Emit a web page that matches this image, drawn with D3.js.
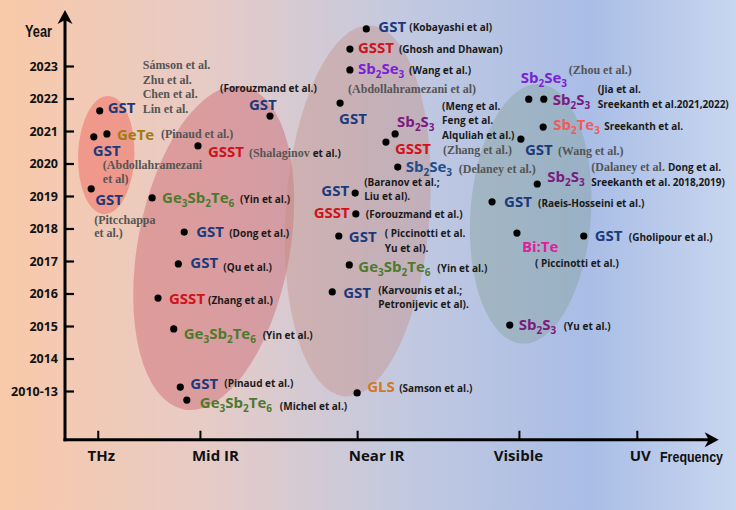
<!DOCTYPE html>
<html><head><meta charset="utf-8">
<script src="https://cdn.jsdelivr.net/npm/d3@7"></script>
<style>html,body{margin:0;padding:0;overflow:hidden;background:#fff}</style>
</head><body>
<svg id="c" width="736" height="510"></svg>
<script>
// ---------------- DATA ----------------
const yearLabels = ["2010-13","2014","2015","2016","2017","2018","2019","2020","2021","2022","2023"];
const yearTicks = [0,1,2,3,4,5,6,7,8,9,10];
const freqLabels = ["THz","Mid IR","Near IR","Visible","UV"];
const freqTicks = [0.50, 2.06, 4.46, 6.93, 8.73];

const materials = [
  "GST","GeTe","GST","GST",
  "GST","GSST","Ge3Sb2Te6","GST","GST","GSST","Ge3Sb2Te6","GST","Ge3Sb2Te6",
  "GST","GSST","Sb2Se3","GST","Sb2S3","GSST","Sb2Se3","GST","GSST","GST","Ge3Sb2Te6","GST","GLS",
  "Sb2Se3","Sb2S3","Sb2Te3","GST","Sb2S3","GST","Bi:Te","GST","Sb2S3"
];
const bandValues = [
  0.53,0.64,0.44,0.40,
  3.13,2.03,1.33,1.82,1.73,1.42,1.66,1.76,1.86,
  4.60,4.35,4.35,4.20,5.04,4.90,5.08,4.43,4.44,4.18,4.34,4.08,4.46,
  7.08,7.31,7.30,6.96,7.21,6.52,6.90,7.92,6.79
];
const yearValues = [
  8.62,7.91,7.82,6.22,
  8.46,7.54,5.94,4.89,3.91,2.86,1.91,0.12,-0.28,
  11.14,10.52,9.88,8.86,7.91,7.66,6.89,6.09,5.45,4.77,3.88,3.05,-0.06,
  8.98,8.98,8.12,7.75,6.37,5.82,4.86,4.77,2.03
];
const citations = [
  ["Sámson  et al.","Zhu  et al.","Chen  et al.","Lin et al."],
  ["(Pinaud et al.)"],
  ["(Abdollahramezani","et al)"],
  ["(Pitcchappa","et al.)"],
  ["(Forouzmand et al.)"],
  ["(Shalaginov |et al.)"],
  ["(Yin et al.)"],
  ["(Dong et al.)"],
  ["(Qu et al.)"],
  ["(Zhang  et al.)"],
  ["(Yin et al.)"],
  ["(Pinaud  et al.)"],
  ["(Michel et al.)"],
  ["(Kobayashi  et al)"],
  ["(Ghosh and Dhawan)"],
  ["(Wang  et al.)"],
  ["(Abdollahramezani  et al)"],
  ["(Meng et al.","Feng et al.","Alquliah  et al.)"],
  ["(Zhang  et al.)"],
  ["(Delaney et al.)"],
  ["(Baranov  et al.;","Liu et al)."],
  ["(Forouzmand  et al.)"],
  ["( Piccinotti  et al.","Yu et al)."],
  ["(Yin et al.)"],
  ["(Karvounis  et al.;","Petronijevic et al)."],
  ["(Samson  et al.)"],
  ["(Zhou  et al.)"],
  ["(Jia et al.","Sreekanth et al.2021,2022)"],
  ["Sreekanth et al."],
  ["(Wang  et al.)"],
  ["(Dalaney et al. |Dong et al.","|Sreekanth et al. 2018,2019)"],
  ["(Raeis-Hosseini et al.)"],
  ["( Piccinotti  et al.)"],
  ["(Gholipour  et al.)"],
  ["(Yu et al.)"]
];
// group ellipses (band / year units)
const groupNames = ["THz","Mid IR","Near IR","Visible"];
const groupBand = [0.63, 2.27, 4.47, 7.11];
const groupYear = [7.26, 4.40, 5.54, 5.45];
const groupBandSpread = [0.43, 1.16, 1.10, 0.92];
const groupYearSpread = [1.82, 5.05, 5.72, 4.00];

// ---------------- LAYOUT / STYLE ----------------
const groupStyle = [
  {rot:2, fill:"rgba(238,112,104,0.55)"},
  {rot:10.5, fill:"rgba(205,100,110,0.45)"},
  {rot:4, fill:"rgba(195,140,130,0.40)"},
  {rot:4, fill:"rgba(130,160,150,0.40)"}
];
const matColor = {
  "GST":"#1b3a7c","GSST":"#d0121b","GeTe":"#a07c12","Ge3Sb2Te6":"#4d7a2e",
  "Sb2Se3":"#7a22d6","Sb2S3":"#7b1a80","Sb2Te3":"#f25a5a","Bi:Te":"#e0209a","GLS":"#d2782a"
};
// [matDx, matDy, anchor, citeDx, citeDy, serif, lineGap, colorOverride]
const labelLayout = [
  [8,2,"start",43,-42,1,14.7],
  [10,6,"start",54,4,1,14],
  [-1,19,"start",9,32,1,14],
  [4,16,"start",3,35,1,13],
  [-21,-6,"start",-50,-24,0,14],
  [10,11,"start",51,11,1,14],
  [10,5,"start",88,5,0,14],
  [12,5,"start",45,5,0,14],
  [12,4,"start",45,7,0,14],
  [11,6,"start",50,6,0,14],
  [10,10,"start",89,10,0,14],
  [10,2,"start",44,0,0,14],
  [13,8,"start",93,10,0,14],
  [12,3,"start",43,2,0,14],
  [8,4,"start",49,4,0,14],
  [8,4,"start",59,4,0,14],
  [-1,21,"start",8,-10,1,14],
  [2,-7,"start",47,-24,0,14.5],
  [9,12,"start",57,12,1,14],
  [8,5,"start",61,6,1,14,"#1f4e8c"],
  [-6,3,"end",9,-7,0,14],
  [-6,4,"end",10,4,0,14],
  [10,6,"start",46,1,0,15],
  [9,7,"start",88,7,0,14],
  [11,6,"start",46,2,0,14],
  [10,-1,"start",42,-1,0,14],
  [-8,-16,"start",40,-25,1,14],
  [9,6,"start",54,-6,0,15],
  [10,3,"start",61,3,0,14],
  [4,16,"start",37,16,1,14],
  [10,-2,"start",54,-13,1,15],
  [12,5,"start",46,5,0,14],
  [5,19,"start",18,34,0,14],
  [11,5,"start",45,5,0,14],
  [9,5,"start",54,5,0,14]
];
const freqLabelDx = [3, 15, 19, -1, 3];

// ---------------- DRAW ----------------
const W = 736, H = 510;
const svg = d3.select("#c");
const x = d3.scaleLinear().domain([0,10]).range([65,720]);
const y = d3.scaleLinear().domain([0,10]).range([391,66]);

const defs = svg.append("defs");
const grad = defs.append("linearGradient").attr("id","bg").attr("x1","0").attr("x2","1").attr("y1","0").attr("y2","0");
[["0%","#f9c9a9"],["28%","#e7cbc6"],["55%","#c2c9e0"],["80%","#a9bde6"],["100%","#c8d6ef"]]
  .forEach(s=>grad.append("stop").attr("offset",s[0]).attr("stop-color",s[1]));
svg.append("rect").attr("width",W).attr("height",H).attr("fill","url(#bg)");

// ellipses
svg.append("g").selectAll("ellipse").data(groupNames).join("ellipse")
  .attr("transform",(d,i)=>`translate(${x(groupBand[i])},${y(groupYear[i])}) rotate(${groupStyle[i].rot})`)
  .attr("rx",(d,i)=>x(groupBandSpread[i])-x(0))
  .attr("ry",(d,i)=>y(0)-y(groupYearSpread[i]))
  .attr("fill",(d,i)=>groupStyle[i].fill);

// axes
const yBottom = -1.5, yTop = 11.72, xRight = 9.98;
const axisFont = "'Open Sans', sans-serif";
const yAxis = d3.axisLeft(y).tickValues(yearTicks).tickFormat((d,i)=>yearLabels[i])
  .tickSizeInner(-9).tickSizeOuter(0).tickPadding(7);
const gy = svg.append("g").attr("transform",`translate(${x(0)},0)`).call(yAxis);
gy.select(".domain").remove();
gy.selectAll(".tick line").attr("stroke","#000").attr("stroke-width",2.2);
gy.selectAll(".tick text").attr("font-family",axisFont).attr("font-weight",700).attr("font-size",12.5).attr("fill","#111");

const xAxis = d3.axisBottom(x).tickValues(freqTicks).tickFormat((d,i)=>freqLabels[i])
  .tickSizeInner(-9).tickSizeOuter(0).tickPadding(11);
const gx = svg.append("g").attr("transform",`translate(0,${y(yBottom)})`).call(xAxis);
gx.select(".domain").remove();
gx.selectAll(".tick line").attr("stroke","#000").attr("stroke-width",2);
gx.selectAll(".tick text").attr("font-family",axisFont).attr("font-weight",700).attr("font-size",15).attr("fill","#111")
  .attr("dx",(d,i)=>freqLabelDx[i]);

// axis lines + arrows
const ax0 = x(0), ay0 = y(yBottom);
svg.append("line").attr("x1",ax0).attr("y1",ay0+1.5).attr("x2",ax0).attr("y2",y(yTop)+6).attr("stroke","#000").attr("stroke-width",3);
svg.append("line").attr("x1",ax0-1.5).attr("y1",ay0).attr("x2",x(xRight)-6).attr("y2",ay0).attr("stroke","#000").attr("stroke-width",3);
const ty = y(yTop);
svg.append("path").attr("d",`M${ax0},${ty} L${ax0+7.5},${ty+14} L${ax0},${ty+10} L${ax0-7.5},${ty+14} Z`).attr("fill","#000");
const tx = x(xRight);
svg.append("path").attr("d",`M${tx},${ay0} L${tx-14},${ay0-7.5} L${tx-10},${ay0} L${tx-14},${ay0+7.5} Z`).attr("fill","#000");

const narrow = "'Liberation Sans',sans-serif";
svg.append("text").attr("x",25).attr("y",37).text("Year")
  .attr("font-family",narrow).attr("font-weight",700).attr("font-size",17).attr("fill","#111")
  .attr("textLength",27).attr("lengthAdjust","spacingAndGlyphs");
svg.append("text").attr("x",660).attr("y",462).text("Frequency")
  .attr("font-family",narrow).attr("font-weight",700).attr("font-size",14).attr("fill","#111")
  .attr("textLength",63).attr("lengthAdjust","spacingAndGlyphs");

// points
const pts = materials.map((m,i)=>({m, b:bandValues[i], yr:yearValues[i], cite:citations[i], L:labelLayout[i]}));
svg.append("g").selectAll("circle").data(pts).join("circle")
  .attr("cx",d=>x(d.b)).attr("cy",d=>y(d.yr)).attr("r",3.6).attr("fill","#000");

const matFont = "'Open Sans', sans-serif";
const serifFont = "'Liberation Serif','DejaVu Serif',serif";
const gl = svg.append("g");
pts.forEach(p=>{
  const px = x(p.b), py = y(p.yr), L = p.L;
  const t = gl.append("text").attr("x",px+L[0]).attr("y",py+L[1]).attr("text-anchor",L[2])
    .attr("font-family",matFont).attr("font-weight",700).attr("font-size",15)
    .attr("fill", L[7] || matColor[p.m] || "#1b3a7c");
  const toks = p.m.match(/\d+|[^\d]+/g);
  let sub = false;
  toks.forEach(tok=>{
    const isNum = /^\d+$/.test(tok);
    const ts = t.append("tspan").text(tok);
    if (isNum) { ts.attr("font-size",10).attr("dy", sub?0:4); sub = true; }
    else { if (sub) ts.attr("dy",-4); sub = false; }
  });
  p.cite.forEach((line,li)=>{
    const ct = gl.append("text").attr("x",px+L[3]).attr("y",py+L[4]+li*L[6]);
    let serif = !!L[5];
    line.split("|").forEach((seg,si)=>{
      if (si>0) serif = !serif;
      if (!seg) return;
      ct.append("tspan").text(seg)
        .attr("font-family", serif?serifFont:matFont)
        .attr("font-weight",700)
        .attr("font-size", serif?12:10)
        .attr("fill", serif?"#555":"#1a1a1a");
    });
  });
});
</script></body></html>
